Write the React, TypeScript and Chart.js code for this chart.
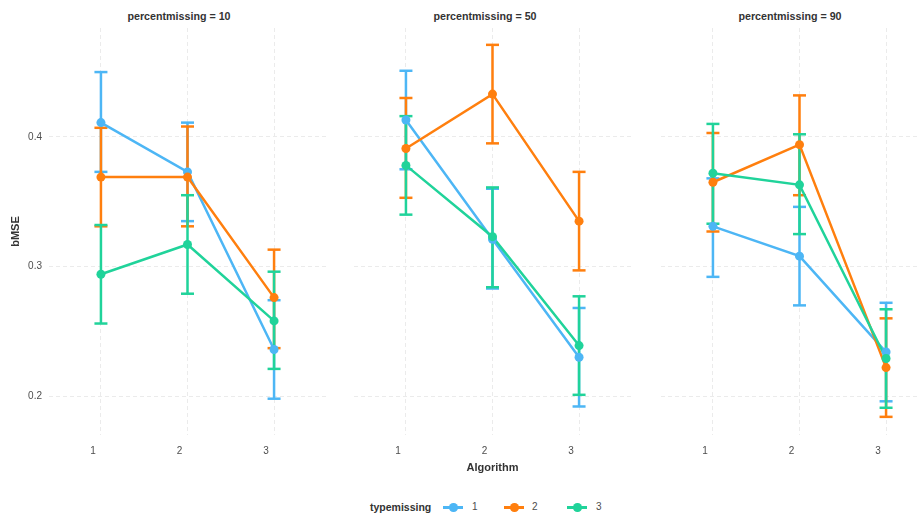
import React, { useEffect, useRef } from 'react';
import { Chart, registerables } from 'chart.js';
Chart.register(...registerables);

// ---- data ----
const algorithms = [1, 2, 3];
const typeLabels = ['1', '2', '3'];
const facetValues = [10, 50, 90];
const yTickValues = [0.2, 0.3, 0.4];
const seriesColors = ['#4DB6F5', '#FF7F0E', '#20D39A'];

// rows: typemissing 1, 2, 3 ; columns: Algorithm 1, 2, 3
const pm10Mean = [[0.411, 0.373, 0.236], [0.369, 0.369, 0.276], [0.294, 0.317, 0.258]];
const pm10Low = [[0.373, 0.335, 0.198], [0.331, 0.331, 0.237], [0.256, 0.279, 0.221]];
const pm10High = [[0.450, 0.411, 0.274], [0.407, 0.408, 0.313], [0.332, 0.355, 0.296]];

const pm50Mean = [[0.413, 0.321, 0.230], [0.391, 0.433, 0.335], [0.378, 0.323, 0.239]];
const pm50Low = [[0.375, 0.283, 0.192], [0.353, 0.395, 0.297], [0.340, 0.284, 0.201]];
const pm50High = [[0.451, 0.360, 0.268], [0.430, 0.471, 0.373], [0.416, 0.361, 0.277]];

const pm90Mean = [[0.331, 0.308, 0.234], [0.365, 0.394, 0.222], [0.372, 0.363, 0.229]];
const pm90Low = [[0.292, 0.270, 0.196], [0.327, 0.355, 0.184], [0.333, 0.325, 0.191]];
const pm90High = [[0.368, 0.346, 0.272], [0.403, 0.432, 0.260], [0.410, 0.402, 0.267]];

const facetMeans = [pm10Mean, pm50Mean, pm90Mean];
const facetLows = [pm10Low, pm50Low, pm90Low];
const facetHighs = [pm10High, pm50High, pm90High];

// ---- layout ----
const FONT = '"Liberation Sans", Arial, Helvetica, sans-serif';
const panelLayout = [
  { left: 0, width: 326, titleCenter: 179 },
  { left: 354, width: 277, titleCenter: 485 },
  { left: 661, width: 277, titleCenter: 790 },
];
const CANVAS_H = 480;

function Panel({ idx }: { idx: number }) {
  const ref = useRef<HTMLCanvasElement>(null);
  useEffect(() => {
    if (!ref.current) return;
    const means = facetMeans[idx];
    const lows = facetLows[idx];
    const highs = facetHighs[idx];
    const datasets: any[] = [];
    for (let t = 0; t < typeLabels.length; t++) {
      const color = seriesColors[t];
      const stems: any[] = [];
      const caps: any[] = [];
      algorithms.forEach((a, i) => {
        stems.push({ x: a, y: lows[t][i] }, { x: a, y: highs[t][i] }, { x: a, y: null });
        caps.push({ x: a, y: lows[t][i] }, { x: a, y: highs[t][i] });
      });
      datasets.push({
        type: 'line', label: 'stem' + t, data: stems, borderColor: color, borderWidth: 2.5,
        pointRadius: 0, spanGaps: false, order: 40 - t, borderCapStyle: 'butt',
      });
      datasets.push({
        type: 'line', label: 'cap' + t, data: caps, showLine: false, pointStyle: 'line',
        pointRadius: 6.5, pointHoverRadius: 6.5, pointBorderColor: color, pointBorderWidth: 2.5,
        borderColor: color, order: 40 - t,
      });
      datasets.push({
        type: 'line', label: typeLabels[t], data: algorithms.map((a, i) => ({ x: a, y: means[t][i] })),
        borderColor: color, borderWidth: 2.5, pointRadius: 0, order: 20 - t,
      });
      datasets.push({
        type: 'line', label: 'pt' + t, data: algorithms.map((a, i) => ({ x: a, y: means[t][i] })),
        showLine: false, pointRadius: 4.5, pointHoverRadius: 4.5, pointBackgroundColor: color,
        pointBorderWidth: 0, borderColor: color, order: 10 - t,
      });
    }
    const tickFont = { family: FONT, size: 10 };
    const chart = new Chart(ref.current, {
      type: 'line',
      data: { datasets },
      options: {
        animation: false,
        responsive: false,
        devicePixelRatio: 1,
        layout: { autoPadding: false, padding: { top: 28, left: 0, right: 0, bottom: 0 } },
        plugins: { legend: { display: false }, tooltip: { enabled: false }, title: { display: false } },
        events: [],
        scales: {
          x: {
            type: 'linear',
            min: 0.4,
            max: 3.6,
            afterBuildTicks: (scale: any) => { scale.ticks = algorithms.map((v) => ({ value: v })); },
            afterFit: (scale: any) => { scale.height = 45; },
            ticks: { color: '#4D4D4D', font: tickFont, padding: 10, labelOffset: -8, callback: (v: any) => String(v) },
            grid: { color: '#EBEBEB', lineWidth: 1, drawTicks: false },
            border: { display: false, dash: [4, 3] },
            title: {
              display: idx === 1, text: 'Algorithm', color: '#333333',
              font: { family: FONT, size: 11, weight: 'bold' }, padding: { top: 0, bottom: 5 },
            },
          },
          y: {
            type: 'linear',
            min: 0.17,
            max: 0.484,
            afterBuildTicks: (scale: any) => { scale.ticks = yTickValues.map((v) => ({ value: v })); },
            afterFit: (scale: any) => { scale.width = idx === 0 ? 49 : 0; },
            ticks: { display: idx === 0, color: '#4D4D4D', font: tickFont, padding: 7, callback: (v: any) => Number(v).toFixed(1) },
            grid: { color: '#EBEBEB', lineWidth: 1, drawTicks: false },
            border: { display: false, dash: [4, 3] },
            title: {
              display: idx === 0, text: 'bMSE', color: '#333333',
              font: { family: FONT, size: 11, weight: 'bold' }, padding: { top: 9, bottom: 0 },
            },
          },
        },
      } as any,
    });
    return () => chart.destroy();
  }, [idx]);
  const p = panelLayout[idx];
  return (
    <canvas
      ref={ref}
      width={p.width}
      height={CANVAS_H}
      style={{ position: 'absolute', left: p.left, top: 0, width: p.width, height: CANVAS_H }}
    />
  );
}

function LegendKey({ color, center }: { color: string; center: number }) {
  return (
    <div style={{ position: 'absolute', left: center - 10, top: 501, width: 20, height: 12 }}>
      <div style={{ position: 'absolute', left: 0, top: 5, width: 20, height: 2.5, background: color }} />
      <div style={{ position: 'absolute', left: 6, top: 2, width: 8.5, height: 8.5, borderRadius: '50%', background: color }} />
    </div>
  );
}

export default function App() {
  const keyCenters = [453, 514, 577];
  const labelLefts = [472, 532, 596];
  return (
    <div style={{ position: 'fixed', left: 0, top: 0, width: 917, height: 515, overflow: 'hidden', background: '#ffffff', fontFamily: FONT }}>
      {facetValues.map((f, i) => (
        <div key={'t' + i} style={{ position: 'absolute', left: panelLayout[i].titleCenter - 100, top: 10, width: 200, textAlign: 'center', fontSize: 10.7, fontWeight: 'bold', color: '#333333', lineHeight: '12px' }}>
          {'percentmissing = ' + f}
        </div>
      ))}
      {facetValues.map((_, i) => <Panel key={'p' + i} idx={i} />)}
      <div style={{ position: 'absolute', left: 370, top: 500, fontSize: 10.5, fontWeight: 'bold', color: '#333333', lineHeight: '14px' }}>typemissing</div>
      {typeLabels.map((l, i) => (
        <React.Fragment key={'l' + i}>
          <LegendKey color={seriesColors[i]} center={keyCenters[i]} />
          <div style={{ position: 'absolute', left: labelLefts[i], top: 500, fontSize: 10, color: '#4D4D4D', lineHeight: '14px' }}>{l}</div>
        </React.Fragment>
      ))}
    </div>
  );
}
